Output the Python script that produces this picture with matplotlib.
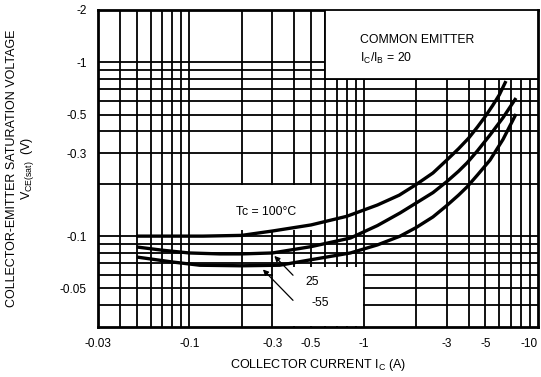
"""
python plot.py  ->  out.png
VCE(sat) vs IC datasheet curve (common emitter, IC/IB = 20).
"""
import matplotlib
matplotlib.use("Agg")
import matplotlib.pyplot as plt
import matplotlib.patches as mpatches
from matplotlib.ticker import FixedLocator, NullLocator

plt.rcParams["font.family"] = ["Liberation Sans", "DejaVu Sans"]
plt.rcParams["mathtext.fontset"] = "custom"
plt.rcParams["mathtext.rm"] = "Liberation Sans"
plt.rcParams["mathtext.it"] = "Liberation Sans:italic"

# ── data (magnitudes, the chart shows them negative) ──
ic_100 = [0.05, 0.08, 0.12, 0.2, 0.3, 0.5, 0.8, 1.2, 1.6, 2.0, 2.5, 3.0, 3.5, 4.0, 4.5,
          5.0, 5.5, 6.0, 6.55]
vce_100 = [0.100, 0.100, 0.100, 0.101, 0.107, 0.116, 0.130, 0.151, 0.172, 0.198, 0.231, 0.274,
           0.318, 0.366, 0.425, 0.49, 0.565, 0.65, 0.78]

ic_25 = [0.05, 0.07, 0.1, 0.15, 0.2, 0.3, 0.5, 0.84, 1.2, 1.62, 2.0, 2.5, 3.0, 3.5, 3.92,
         4.5, 5.31, 6.3, 7.48]
vce_25 = [0.0866, 0.083, 0.080, 0.079, 0.079, 0.080, 0.087, 0.0975, 0.115, 0.136, 0.155, 0.178,
          0.206, 0.236, 0.264, 0.31, 0.382, 0.48, 0.623]

ic_m55 = [0.05, 0.08, 0.115, 0.2, 0.33, 0.49, 0.84, 1.2, 1.62, 2.0, 2.5, 3.0, 3.5, 3.92,
          4.5, 5.31, 6.3, 7.48]
vce_m55 = [0.0758, 0.071, 0.068, 0.0675, 0.068, 0.0729, 0.080, 0.089, 0.100, 0.112, 0.129, 0.150,
           0.172, 0.192, 0.225, 0.274, 0.36, 0.504]

x_ticks = [0.03, 0.1, 0.3, 0.5, 1, 3, 5, 10]
x_labels = ["-0.03", "-0.1", "-0.3", "-0.5", "-1", "-3", "-5", "-10"]
y_ticks = [0.05, 0.1, 0.3, 0.5, 1, 2]
y_labels = ["-0.05", "-0.1", "-0.3", "-0.5", "-1", "-2"]

W, H = 541, 377
fig = plt.figure(figsize=(W / 100, H / 100), dpi=100)
ax = fig.add_axes([98 / W, 50 / H, 440 / W, 317 / H])
ax.set_xscale("log")
ax.set_yscale("log")
ax.set_xlim(0.03, 10)
ax.set_ylim(0.03, 2)

# log grid, drawn by hand so it sits under the white-outs
grid = [m * 10 ** e for e in (-2, -1, 0, 1) for m in range(1, 10)]
for g in grid:
    if 0.03 < g < 10:
        ax.axvline(g, color="black", lw=1.3, zorder=1)
    if 0.03 < g < 2:
        ax.axhline(g, color="black", lw=1.3, zorder=1)

# white-outs behind the labels
ax.add_patch(mpatches.Rectangle((0.105, 0.108), 0.445, 0.089, facecolor="white",
                                edgecolor="none", zorder=2))
ax.add_patch(mpatches.Rectangle((0.303, 0.0302), 0.685, 0.0358, facecolor="white",
                                edgecolor="none", zorder=2))

# curves
for xs, ys in [(ic_100, vce_100), (ic_25, vce_25), (ic_m55, vce_m55)]:
    ax.plot(xs, ys, color="black", lw=2.4, solid_capstyle="butt", zorder=3)

# condition box (top right)
ax.add_patch(mpatches.Rectangle((0.6, 0.8), 9.4, 1.2, facecolor="white",
                                edgecolor="black", lw=1.3, zorder=4))
ax.text(0.595, 0.905, "COMMON EMITTER", transform=ax.transAxes,
        fontsize=8.8, va="center", ha="left", zorder=5)
ax.text(0.595, 0.848, r"I$_\mathrm{C}$/I$_\mathrm{B}$ = 20", transform=ax.transAxes,
        fontsize=8.8, va="center", ha="left", zorder=5)

# curve labels
ax.text(0.186, 0.137, "Tc = 100°C", fontsize=8.8, va="center", ha="left", zorder=5)
ax.text(0.465, 0.0546, "25", fontsize=8.8, va="center", ha="left", zorder=5)
ax.text(0.50, 0.041, "-55", fontsize=8.8, va="center", ha="left", zorder=5)
ax.annotate("", xy=(0.30, 0.079), xytext=(0.404, 0.058),
            arrowprops=dict(arrowstyle="-|>", color="black", lw=0.9,
                            mutation_scale=8), zorder=5)
ax.annotate("", xy=(0.258, 0.066), xytext=(0.404, 0.0416),
            arrowprops=dict(arrowstyle="-|>", color="black", lw=0.9,
                            mutation_scale=8), zorder=5)

# ticks / labels
ax.xaxis.set_major_locator(FixedLocator(x_ticks))
ax.xaxis.set_minor_locator(NullLocator())
ax.set_xticklabels(x_labels)
ax.yaxis.set_major_locator(FixedLocator(y_ticks))
ax.yaxis.set_minor_locator(NullLocator())
ax.set_yticklabels(y_labels)
ax.tick_params(length=0, labelsize=8.5, pad=8)
ax.get_xticklabels()[-1].set_horizontalalignment("right")
for s in ax.spines.values():
    s.set_linewidth(2)

fig.text(318 / W, 1 - 365 / H, r"COLLECTOR CURRENT I$_\mathrm{C}$ (A)",
         ha="center", va="center", fontsize=9)
fig.text(12 / W, 1 - 168 / H, "COLLECTOR-EMITTER SATURATION VOLTAGE",
         rotation=90, ha="center", va="center", fontsize=9)
fig.text(28 / W, 1 - 168 / H, r"V$_\mathrm{CE(sat)}$  (V)",
         rotation=90, ha="center", va="center", fontsize=9)

fig.savefig("out.png", dpi=100, facecolor="white")
